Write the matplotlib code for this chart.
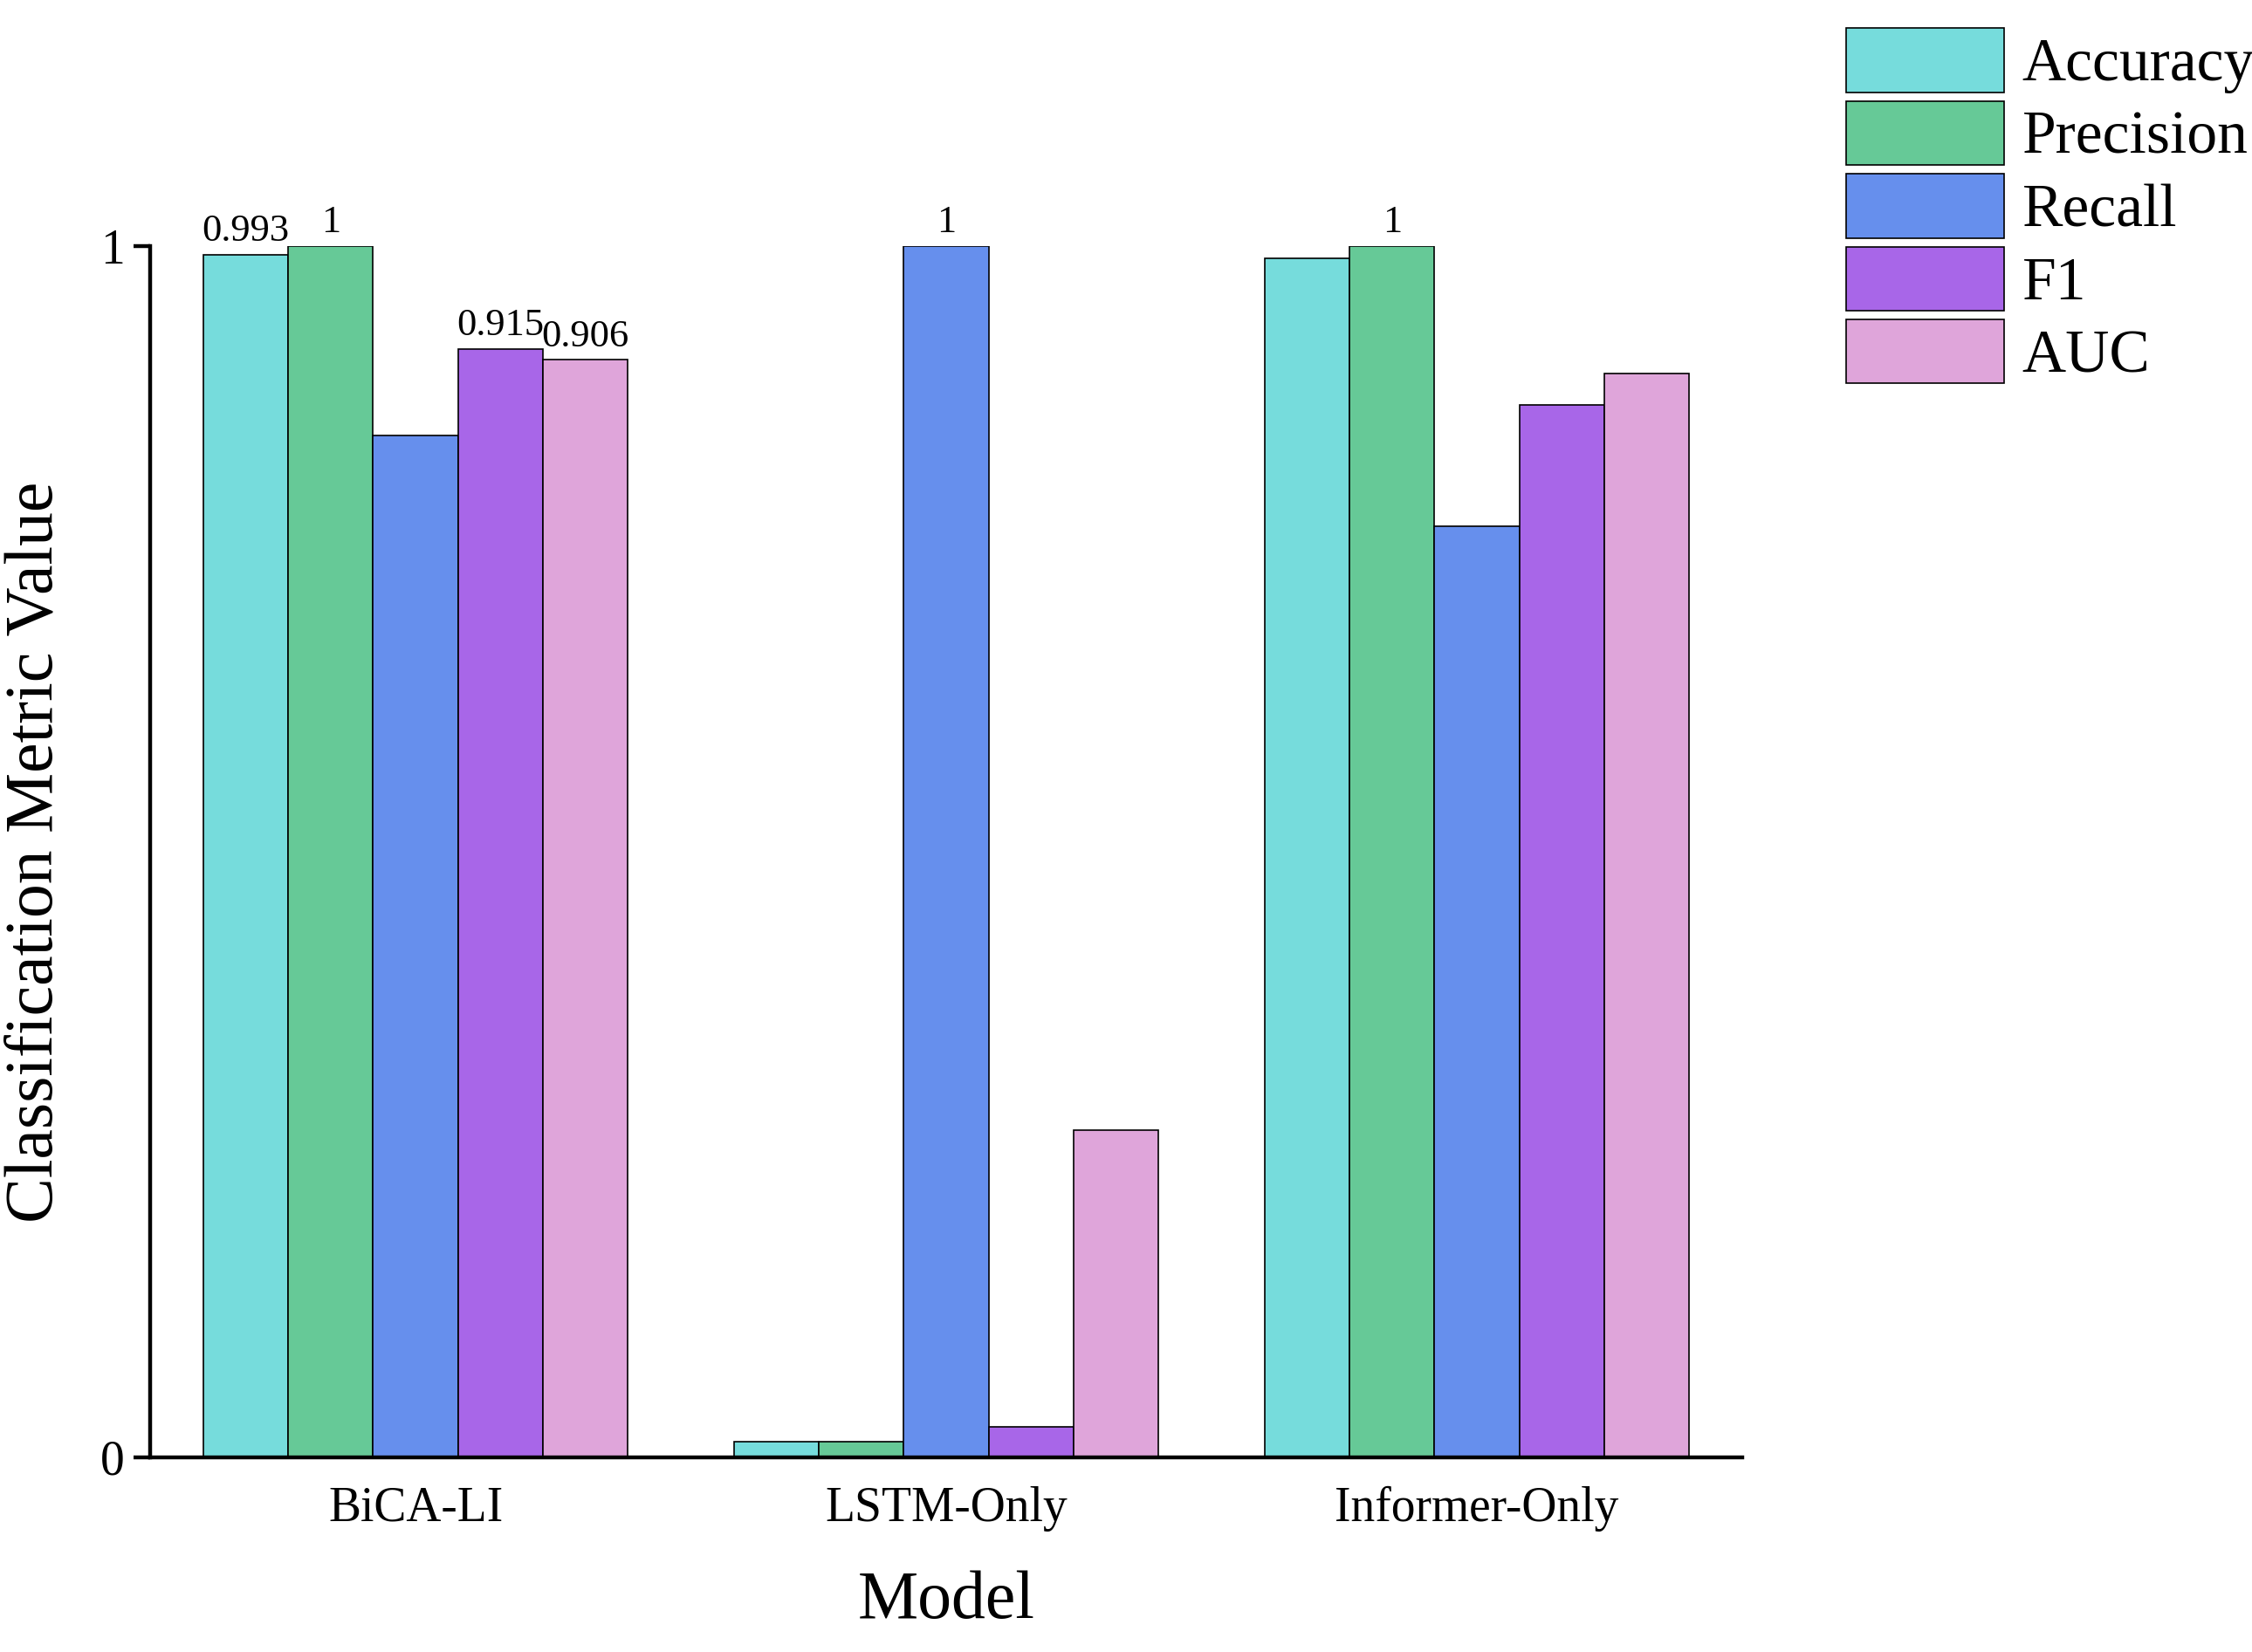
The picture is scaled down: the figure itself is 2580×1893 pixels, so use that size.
import numpy as np
import matplotlib.pyplot as plt
from matplotlib import rcParams

rcParams['font.family'] = 'Liberation Serif'
rcParams['axes.linewidth'] = 1.6

models = ['BiCA-LI', 'LSTM-Only', 'Informer-Only']
metrics = ['Accuracy', 'Precision', 'Recall', 'F1', 'AUC']
accuracy = [0.993, 0.013, 0.990]
precision = [1.0, 0.013, 1.0]
recall = [0.844, 1.0, 0.769]
f1 = [0.915, 0.025, 0.869]
auc = [0.906, 0.270, 0.895]
colors = ['#76DCDC', '#66C997', '#668FED', '#A866E8', '#DFA5DA']

# value labels shown on only some bars, as in the original figure
labels = {'Accuracy': ['0.993', '', ''], 'Precision': ['1', '', '1'],
          'Recall': ['', '1', ''], 'F1': ['0.915', '', ''], 'AUC': ['0.906', '', '']}

fig = plt.figure(figsize=(12.9, 9.465), dpi=200)
ax = fig.add_axes([0.0667, 0.118, 0.707, 0.733])

x = np.arange(len(models))
w = 0.16
series = [accuracy, precision, recall, f1, auc]
for i, (name, vals, c) in enumerate(zip(metrics, series, colors)):
    pos = x + (i - 2) * w
    ax.bar(pos, vals, w, color=c, edgecolor='black', linewidth=0.6, label=name)
    for p, v, t in zip(pos, vals, labels[name]):
        if t:
            ax.text(p, v + 0.005, t, ha='center', va='bottom', fontsize=16, clip_on=False)

ax.set_xlim(-0.5, 2.5)
ax.set_ylim(0, 1)
ax.set_xticks(x)
ax.set_xticklabels(models, fontsize=20)
ax.set_yticks([0, 1])
ax.set_yticklabels(['0', '1'], fontsize=20)
ax.tick_params(axis='x', length=0, pad=12)
ax.tick_params(axis='y', direction='out', length=7, width=1.6)
ax.spines['top'].set_visible(False)
ax.spines['right'].set_visible(False)
ax.set_xlabel('Model', fontsize=28, labelpad=16)
ax.set_ylabel('Classification Metric Value', fontsize=28, labelpad=14)

ax.legend(loc='upper left', bbox_to_anchor=(1.05, 1.2), frameon=False, fontsize=25,
          handlelength=2.6, handleheight=1.25, handletextpad=0.3, labelspacing=0.12,
          borderaxespad=0)

fig.savefig('out.png', dpi=200)
